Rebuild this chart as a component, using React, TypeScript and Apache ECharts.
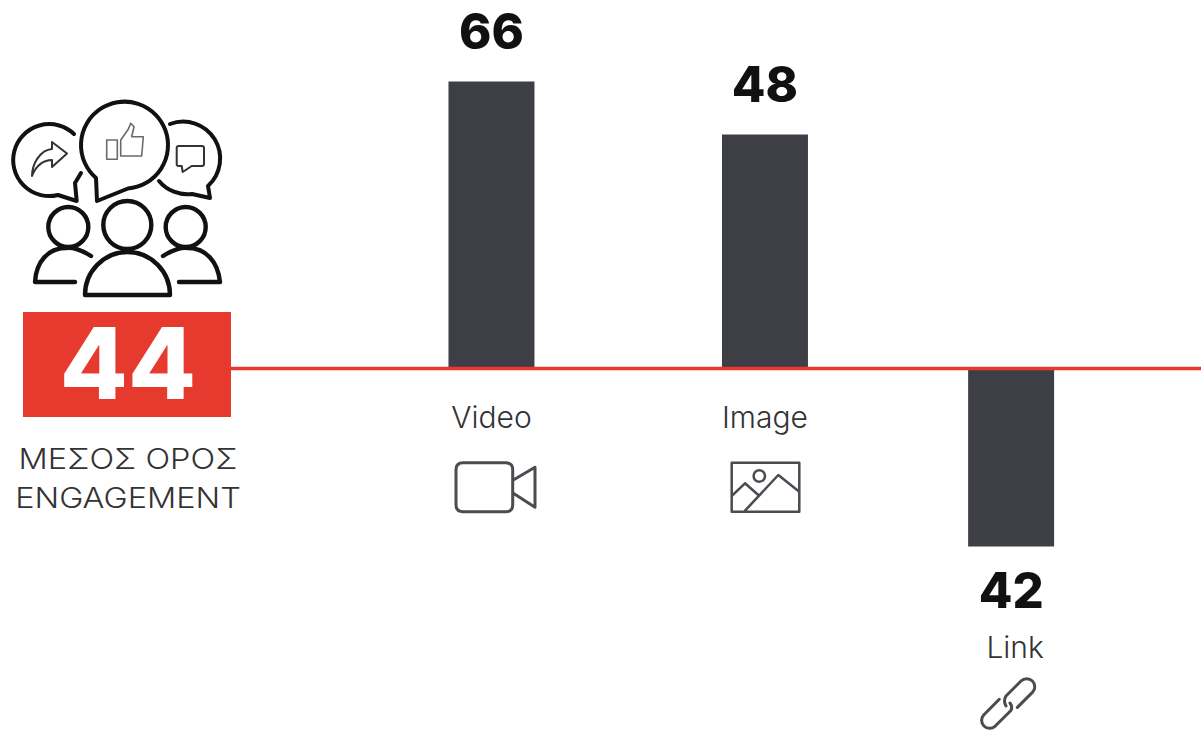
import React, { useEffect, useRef } from "react";
import * as echarts from "echarts";

const categories = ["Video", "Image", "Link"];
const engagement = [66, 48, 42];
const average = 44;
// Signed bar length as drawn in the picture (not to scale with the printed figures)
const drawnLengths = [66, 53.8, -40.9];
// Slot index of each bar on the spaced category axis
const slots = [0, 10, 19];
const slotCount = 20;
const averageTitle = ["ΜΕΣΟΣ ΟΡΟΣ", "ENGAGEMENT"];

const TEXT_FONT = "Inter";
const INK = "#111111";
const BAR = "#3e3e46";
const RED = "#e63a2e";
const ICON = "#4b4b51";

const shapes: Record<string, string> = {
  bubbleLeft: "M74 134A36 36 0 1 0 58 195L76.7 201L75 183L81 173",
  bubbleMid: "M96 178A43.5 43.5 0 1 1 128 188.5L97 201Z",
  bubbleRight: "M170 124A37 37 0 0 1 208 186L210 198L192 194A37 37 0 0 1 159 181",
  people:
    "M151.3 225A24 24 0 1 1 103.3 225A24 24 0 1 1 151.3 225Z" +
    "M85 295A42.5 43 0 0 1 170 295Z" +
    "M88.3 227A20 20 0 1 1 48.3 227A20 20 0 1 1 88.3 227Z" +
    "M91 256C82 250 72 247 66 248C48 248 36 262 35 282L75 282" +
    "M205.7 227A20 20 0 1 1 165.7 227A20 20 0 1 1 205.7 227Z" +
    "M163 256C172 250 182 247 188 248C206 248 218 262 220 282L179 282",
  shareIcon: "M52 142L67 153.5L52 167L52 160C44 160 36 165 32 176C32 164 40 150 52 149Z",
  thumbIcon:
    "M106.7 140H117.3V159.3H106.7Z" +
    "M120.7 156V140L128.3 129.3L130.7 123.3L134 126.7L131.7 136.7H143.3L141.7 156Z",
  commentIcon: "M176.7 148Q176.7 146 178.7 146H202Q204 146 204 148V164Q204 166 202 166H191.7L182.7 172L181.7 166H178.7Q176.7 166 176.7 164Z",
  videoIcon:
    "M463 462.7H505.7Q512.7 462.7 512.7 469.7V504.7Q512.7 511.7 505.7 511.7H463Q456 511.7 456 504.7V469.7Q456 462.7 463 462.7Z" +
    "M513.3 480L535 467.3V507.3L513.3 493.3",
  photoIcon:
    "M731.7 462.7H799.3V511.7H731.7Z" +
    "M765 476A5.7 5.7 0 1 1 753.6 476A5.7 5.7 0 1 1 765 476Z" +
    "M731.7 496L745 483.3L758.3 495M745 510.7L778.3 475L799.3 491.7",
  linkIcon:
    "M999.3 699.3L983.7 715A8 8 0 0 0 995 726.3L1010.7 710.7Q1013 707 1010 703" +
    "M1021 681L1006 696Q1003 701 1006 706M1021 681A8 8 0 0 1 1032.4 692.4L1017.4 707.4",
};

const registerShapes = () => {
  Object.keys(shapes).forEach((k) => {
    echarts.graphic.registerShape(k, echarts.graphic.extendPath(shapes[k], {}));
  });
};

const icon = (type: string, stroke: string, lineWidth: number) => ({
  type,
  x: 0,
  y: 0,
  silent: true,
  style: { fill: "none", stroke, lineWidth, lineJoin: "round", lineCap: "round" },
});

export default function App() {
  const ref = useRef<HTMLDivElement>(null);
  useEffect(() => {
    document.body.style.margin = "0";
    registerShapes();
    const chart = echarts.init(ref.current!, undefined, { renderer: "svg" });
    const slotLabels = Array.from({ length: slotCount }, (_, i) => {
      const k = slots.indexOf(i);
      return k >= 0 ? categories[k] : "";
    });
    const barData = slotLabels.map((_, i) => {
      const k = slots.indexOf(i);
      if (k < 0) return null;
      const up = drawnLengths[k] >= 0;
      return {
        value: drawnLengths[k],
        label: {
          show: true,
          position: up ? "top" : "bottom",
          formatter: String(engagement[k]),
          distance: up ? 25 : 20,
          fontFamily: TEXT_FONT,
          fontWeight: 800,
          fontSize: 49,
          color: INK,
        },
      };
    });
    const yRange = { min: -80, max: 80 };
    const titleLine = (text: string, y: number) => ({
      type: "text",
      x: 128,
      y,
      scaleX: 1.16,
      style: {
        text,
        fill: "#333333",
        fontFamily: TEXT_FONT,
        fontWeight: 300,
        fontSize: 28,
        align: "center",
        verticalAlign: "middle",
      },
    });
    const hiddenY = (gridIndex: number, range: { min: number; max: number }) => ({
      type: "value",
      gridIndex,
      ...range,
      show: false,
      splitLine: { show: false },
    });
    chart.setOption({
      animation: false,
      backgroundColor: "#ffffff",
      grid: [
        { left: 477.8, width: 547, top: 20.5, height: 696, outerBoundsMode: "none" },
        { left: 231, right: 0, top: 20.5, height: 696, outerBoundsMode: "none" },
        // Upper half only: its bottom edge is the zero line, which carries the category labels
        { left: 477.8, width: 547, top: 20.5, height: 348, outerBoundsMode: "none" },
      ],
      xAxis: [
        {
          type: "category",
          gridIndex: 0,
          data: slotLabels,
          axisLine: { show: false },
          axisTick: { show: false },
          axisLabel: { show: false },
        },
        {
          type: "category",
          gridIndex: 1,
          boundaryGap: false,
          data: ["start", "end"],
          axisLine: { show: false },
          axisTick: { show: false },
          axisLabel: { show: false },
        },
        {
          type: "category",
          gridIndex: 2,
          data: slotLabels,
          axisLine: { show: false },
          axisTick: { show: false },
          axisLabel: {
            interval: 0,
            margin: 33,
            hideOverlap: false,
            fontFamily: TEXT_FONT,
            fontWeight: 300,
            fontSize: 30,
            color: "#333333",
            formatter: (v: string) => (v === "Link" ? `{low|${v}}` : v),
            rich: {
              low: {
                fontFamily: TEXT_FONT,
                fontWeight: 300,
                fontSize: 30,
                color: "#333333",
                padding: [230, 0, 0, 8],
              },
            },
          },
        },
      ],
      yAxis: [hiddenY(0, yRange), hiddenY(1, yRange), hiddenY(2, { min: 0, max: 80 })],
      series: [
        {
          type: "bar",
          name: "Engagement",
          data: barData,
          barWidth: 86,
          clip: false,
          itemStyle: { color: BAR },
          xAxisIndex: 0,
          yAxisIndex: 0,
          z: 2,
        },
        {
          type: "line",
          name: "Μέσος όρος",
          data: [0, 0],
          xAxisIndex: 1,
          yAxisIndex: 1,
          symbol: "none",
          lineStyle: { color: RED, width: 3.5 },
          z: 3,
        },
      ],
      graphic: [
        icon("bubbleLeft", "#111", 4),
        icon("bubbleRight", "#111", 4),
        icon("bubbleMid", "#111", 4),
        icon("people", "#111", 4.4),
        icon("shareIcon", "#333", 2),
        icon("thumbIcon", "#6a6a6a", 1.6),
        icon("commentIcon", "#333", 2),
        icon("videoIcon", ICON, 3),
        icon("photoIcon", ICON, 2.5),
        icon("linkIcon", ICON, 3),
        {
          type: "rect",
          shape: { x: 23, y: 312, width: 208, height: 105 },
          style: { fill: RED },
        },
        {
          type: "text",
          x: 128,
          y: 363,
          style: {
            text: String(average),
            fill: "#ffffff",
            fontFamily: TEXT_FONT,
            fontWeight: 800,
            fontSize: 99,
            align: "center",
            verticalAlign: "middle",
          },
        },
        titleLine(averageTitle[0], 459),
        titleLine(averageTitle[1], 498),
      ],
    });
    return () => chart.dispose();
  }, []);
  return <div ref={ref} style={{ width: 1201, height: 732, position: "absolute", left: 0, top: 0 }} />;
}
